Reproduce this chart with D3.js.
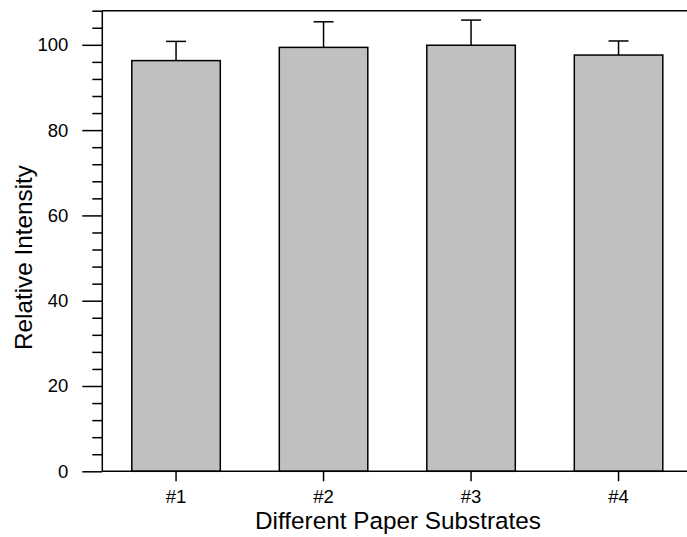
<!DOCTYPE html>
<html>
<head>
<meta charset="utf-8">
<script src="https://cdn.jsdelivr.net/npm/d3@7"></script>
<style>
  html, body { margin: 0; padding: 0; background: #fff; }
  svg { display: block; font-family: "Liberation Sans", Arial, sans-serif; }
</style>
</head>
<body>
<svg id="chart" width="687" height="537"></svg>
<script>
const categories = ["#1", "#2", "#3", "#4"];
const values = [96.3, 99.4, 99.9, 97.6];
const errors = [4.5, 6.0, 5.9, 3.3];
const yMajorTicks = [0, 20, 40, 60, 80, 100];
const xTitle = "Different Paper Substrates";
const yTitle = "Relative Intensity";

(function () {
const svg = d3.select("#chart");
const pLeft = 102.3, pRight = 692.3, pTop = 10.7, pBottom = 471.3;

const x = d3.scaleBand().domain(categories).range([pLeft, pRight])
  .paddingInner(0.4).paddingOuter(0.2);
const y = d3.scaleLinear().domain([0, 108]).range([pBottom, pTop]);

const minorTicks = d3.range(0, 109, 4).filter(v => v % 20 !== 0);

// bars
svg.append("g").selectAll("rect").data(categories).join("rect")
  .attr("x", d => x(d))
  .attr("y", (d, i) => y(values[i]))
  .attr("width", x.bandwidth())
  .attr("height", (d, i) => y(0) - y(values[i]))
  .attr("fill", "#c0c0c0")
  .attr("stroke", "#000")
  .attr("stroke-width", 1.5);

// error bars (upper only)
const eb = svg.append("g").attr("stroke", "#000").attr("stroke-width", 1.5);
categories.forEach((c, i) => {
  const cx = x(c) + x.bandwidth() / 2;
  eb.append("line").attr("x1", cx).attr("x2", cx)
    .attr("y1", y(values[i])).attr("y2", y(values[i] + errors[i]));
  eb.append("line").attr("x1", cx - 10).attr("x2", cx + 10)
    .attr("y1", y(values[i] + errors[i])).attr("y2", y(values[i] + errors[i]));
});

// left axis with major ticks
const yAxis = d3.axisLeft(y).tickValues(yMajorTicks).tickSize(20).tickPadding(14)
  .tickFormat(d3.format("d"));
const gy = svg.append("g").attr("transform", `translate(${pLeft},0)`).call(yAxis);
gy.select(".domain").remove();
gy.selectAll(".tick line").attr("stroke-width", 1.5);
gy.selectAll(".tick text").attr("font-size", 18.5).attr("fill", "#000")
  .attr("font-family", "'Liberation Sans', Arial, sans-serif");

// minor ticks
const yMinor = d3.axisLeft(y).tickValues(minorTicks).tickSize(10).tickFormat("");
const gym = svg.append("g").attr("transform", `translate(${pLeft},0)`).call(yMinor);
gym.select(".domain").remove();
gym.selectAll(".tick line").attr("stroke-width", 1.5);

// axis lines
svg.append("line").attr("x1", pLeft).attr("x2", pLeft).attr("y1", pTop).attr("y2", pBottom)
  .attr("stroke", "#000").attr("stroke-width", 1.5);
svg.append("line").attr("x1", pLeft).attr("x2", 687).attr("y1", pTop).attr("y2", pTop)
  .attr("stroke", "#000").attr("stroke-width", 1.5);
svg.append("line").attr("x1", pLeft).attr("x2", 687).attr("y1", pBottom).attr("y2", pBottom)
  .attr("stroke", "#000").attr("stroke-width", 1.5);

// bottom axis
const xAxis = d3.axisBottom(x).tickSize(10).tickPadding(9);
const gx = svg.append("g").attr("transform", `translate(0,${pBottom})`).call(xAxis);
gx.select(".domain").remove();
gx.selectAll(".tick line").attr("stroke-width", 1.5);
gx.selectAll(".tick text").attr("font-size", 18.5).attr("fill", "#000")
  .attr("font-family", "'Liberation Sans', Arial, sans-serif");

// titles
svg.append("text").attr("x", 398).attr("y", 529)
  .attr("text-anchor", "middle").attr("font-size", 24.3).attr("fill", "#000")
  .text(xTitle);
svg.append("text").attr("transform", "translate(31.5,257.5) rotate(-90)")
  .attr("text-anchor", "middle").attr("font-size", 24.3).attr("fill", "#000")
  .text(yTitle);
})();
</script>
</body>
</html>
